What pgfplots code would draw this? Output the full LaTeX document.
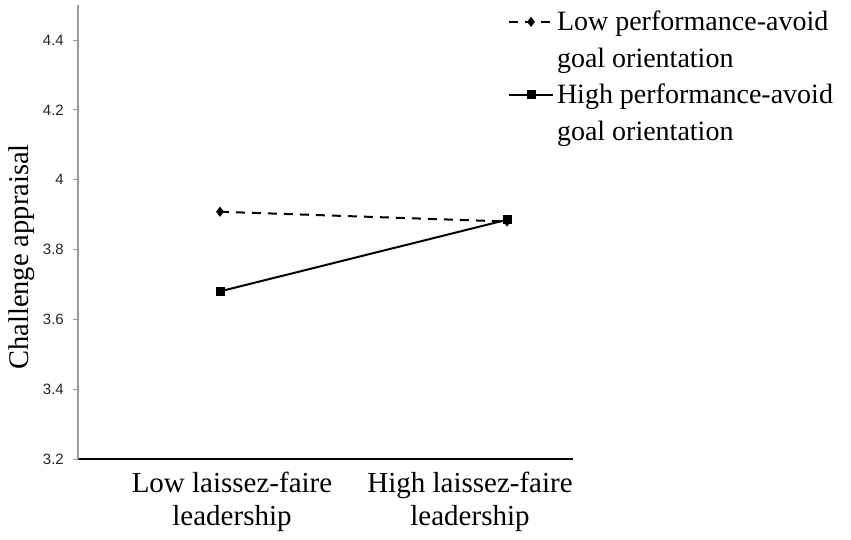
\documentclass[border=0pt]{standalone}
\usepackage{pgfplots}
\pgfplotsset{compat=1.18}
\usepackage{fontspec}
\setmainfont{Liberation Serif}
\newfontfamily\ticksans{Liberation Sans}
\begin{document}
\begin{tikzpicture}
\useasboundingbox (0,0) rectangle (851pt,539pt);
\begin{axis}[
  at={(78pt,80pt)}, anchor=south west,
  scale only axis, width=495pt, height=454pt,
  xmin=0, xmax=495, ymin=3.2, ymax=4.5,
  clip=false,
  axis x line=bottom, axis y line=left,
  x axis line style={-, black, line width=1.5pt},
  y axis line style={-, black!40, line width=1.2pt},
  /pgf/number format/assume math mode=true,
  ytick={3.2,3.4,3.6,3.8,4.0,4.2,4.4},
  yticklabels={3.2,3.4,3.6,3.8,4,4.2,4.4},
  ytick style={black!40, line width=0.8pt},
  tick align=outside,
  major tick length=5pt,
  yticklabel style={font=\ticksans\fontsize{15}{16}\selectfont, text=black!85, inner sep=0pt, xshift=-9pt},
  xtick={154,392},
  xticklabels={{Low laissez-faire\\leadership},{High laissez-faire\\leadership}},
  xtick style={draw=none},
  xticklabel style={font=\fontsize{29}{33}\selectfont, align=center, anchor=north, inner sep=0pt, yshift=-8pt},
  extra x ticks={265},
  extra x tick labels={},
  extra x tick style={major tick length=8pt, tick style={black, line width=1pt, draw=black}},
  ylabel={Challenge appraisal},
  ylabel style={font=\fontsize{28.5}{33}\selectfont, at={(axis description cs:-0.101,0.445)}, anchor=base, rotate=0},
  legend style={draw=none, fill=none, inner sep=0pt, outer sep=0pt,
    at={(axis description cs:0.8687,1.0026)}, anchor=north west,
    cells={anchor=base west, inner sep=0pt, text height=25pt, text depth=11pt}, column sep=1pt, row sep=6pt,
    font=\fontsize{28}{36}\selectfont},
  legend image code/.code={\draw[mark repeat=2, mark phase=2, #1] plot coordinates {(0pt,9pt) (22pt,9pt) (44pt,9pt)};},
]
\addplot[black, line width=2pt, dash pattern=on 9pt off 7pt, mark=diamond*, mark size=3.5pt, mark options={solid}]
  coordinates {(142,3.908) (429,3.880)};
\addlegendentry{Low performance-avoid}
\addlegendimage{empty legend}
\addlegendentry{goal orientation}
\addplot[black, line width=2pt, mark=square*, mark size=3.5pt, mark options={solid}]
  coordinates {(142,3.680) (429,3.885)};
\addlegendentry{High performance-avoid}
\addlegendimage{empty legend}
\addlegendentry{goal orientation}
\end{axis}
\end{tikzpicture}
\end{document}
